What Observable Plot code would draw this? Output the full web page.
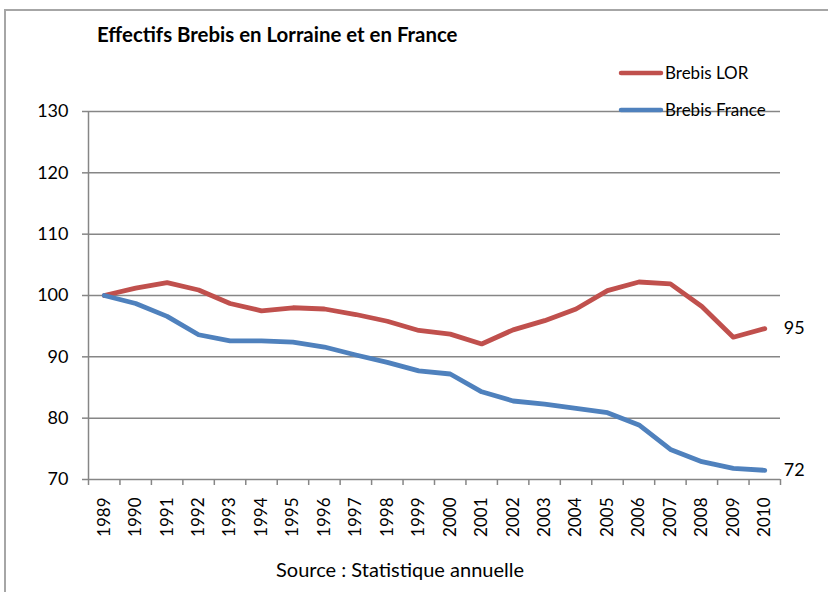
<!DOCTYPE html>
<html><head><meta charset="utf-8">
<script src="https://cdn.jsdelivr.net/npm/d3@7"></script>
<script src="https://cdn.jsdelivr.net/npm/@observablehq/plot@0.6"></script>
<style>
html,body{margin:0;padding:0;background:#fff;}
#wrap{position:relative;width:828px;height:592px;overflow:hidden;}
#frame{position:absolute;left:4px;top:9px;width:900px;height:700px;border-top:2px solid #a6a6a6;border-left:2px solid #a6a6a6;}
#chart{position:absolute;left:0;top:0;}
</style></head><body>
<div id="wrap"><div id="frame"></div><div id="chart"></div></div>
<script>
const years = ["1989","1990","1991","1992","1993","1994","1995","1996","1997","1998","1999","2000","2001","2002","2003","2004","2005","2006","2007","2008","2009","2010"];
const lorraine = [100, 101.2, 102.1, 100.9, 98.7, 97.5, 98.0, 97.8, 96.9, 95.8, 94.3, 93.7, 92.1, 94.4, 95.9, 97.8, 100.8, 102.2, 101.9, 98.2, 93.2, 94.6];
const france   = [100, 98.7, 96.6, 93.6, 92.6, 92.6, 92.4, 91.6, 90.3, 89.1, 87.7, 87.2, 84.3, 82.8, 82.3, 81.6, 80.9, 78.9, 74.9, 72.9, 71.8, 71.5];
const yTicks = [70, 80, 90, 100, 110, 120, 130];
const seriesNames = ["Brebis LOR", "Brebis France"];
const seriesColors = ["#C0504D", "#4F81BD"];
const title = "Effectifs Brebis en Lorraine et en France";
const source = "Source : Statistique annuelle";

const series = [lorraine, france];
const data = seriesNames.flatMap((s, k) => years.map((y, i) => ({year: y, value: series[k][i], series: s})));
const endLabels = seriesNames.map((s, k) => ({year: years[years.length - 1], value: series[k][years.length - 1], label: String(Math.round(series[k][years.length - 1]))}));

const W = 828, H = 592, mL = 88, mR = 48, mT = 111, mB = 113;
const step = (W - mL - mR) / years.length;
const font = "Lato, 'Liberation Sans', sans-serif";
const grid = "#868686";

const chart = Plot.plot({
  width: W, height: H, marginLeft: mL, marginRight: mR, marginTop: mT, marginBottom: mB,
  style: {fontFamily: font, fontSize: "17px", color: "#000", background: "transparent", overflow: "visible"},
  x: {type: "point", domain: years, padding: 0.5, round: false, label: null},
  y: {domain: [70, 130], label: null},
  color: {domain: seriesNames, range: seriesColors},
  marks: [
    Plot.ruleY(yTicks, {y: d => d, stroke: grid, strokeWidth: 1.5}),
    Plot.ruleX([years[0]], {x: d => d, dx: -step / 2, stroke: grid, strokeWidth: 1.5}),
    Plot.ruleX(years, {x: d => d, y1: 70, y2: 70, insetBottom: -6, dx: -step / 2, stroke: grid, strokeWidth: 1.5}),
    Plot.ruleX([years[years.length - 1]], {x: d => d, y1: 70, y2: 70, insetBottom: -6, dx: step / 2, stroke: grid, strokeWidth: 1.5}),
    Plot.axisY({ticks: yTicks, tickSize: 6, tickPadding: 14, stroke: grid, strokeWidth: 1.5, fontSize: 18, label: null}),
    Plot.axisX({tickSize: 0, tickRotate: -90, tickPadding: 18, fontSize: 17, label: null}),
    Plot.line(data, {x: "year", y: "value", stroke: "series", strokeWidth: 4.8, strokeLinejoin: "round", strokeLinecap: "round"}),
    Plot.text(endLabels, {x: "year", y: "value", text: "label", textAnchor: "start", dx: 19, fontSize: 18, fill: "#000"})
  ]
});
document.getElementById("chart").appendChild(chart);

const svg = d3.select(chart);
svg.append("text").attr("x", 97).attr("y", 35).attr("dy", "0.35em").attr("text-anchor", "start")
  .attr("font-family", font).attr("font-weight", "bold").attr("font-size", 20.4).attr("fill", "#000").text(title);
const leg = svg.append("g");
seriesNames.forEach((s, k) => {
  const y = 73 + k * 37;
  leg.append("line").attr("x1", 621).attr("x2", 661).attr("y1", y).attr("y2", y)
    .attr("stroke", seriesColors[k]).attr("stroke-width", 4.5).attr("stroke-linecap", "round");
  leg.append("text").attr("x", 665).attr("y", y).attr("dy", "0.35em").attr("text-anchor", "start")
    .attr("font-family", font).attr("font-size", 17).attr("fill", "#000").text(s);
});
svg.append("text").attr("x", 400).attr("y", 570).attr("dy", "0.35em").attr("text-anchor", "middle")
  .attr("font-family", font).attr("font-size", 20).attr("fill", "#000").text(source);
</script>
</body></html>
